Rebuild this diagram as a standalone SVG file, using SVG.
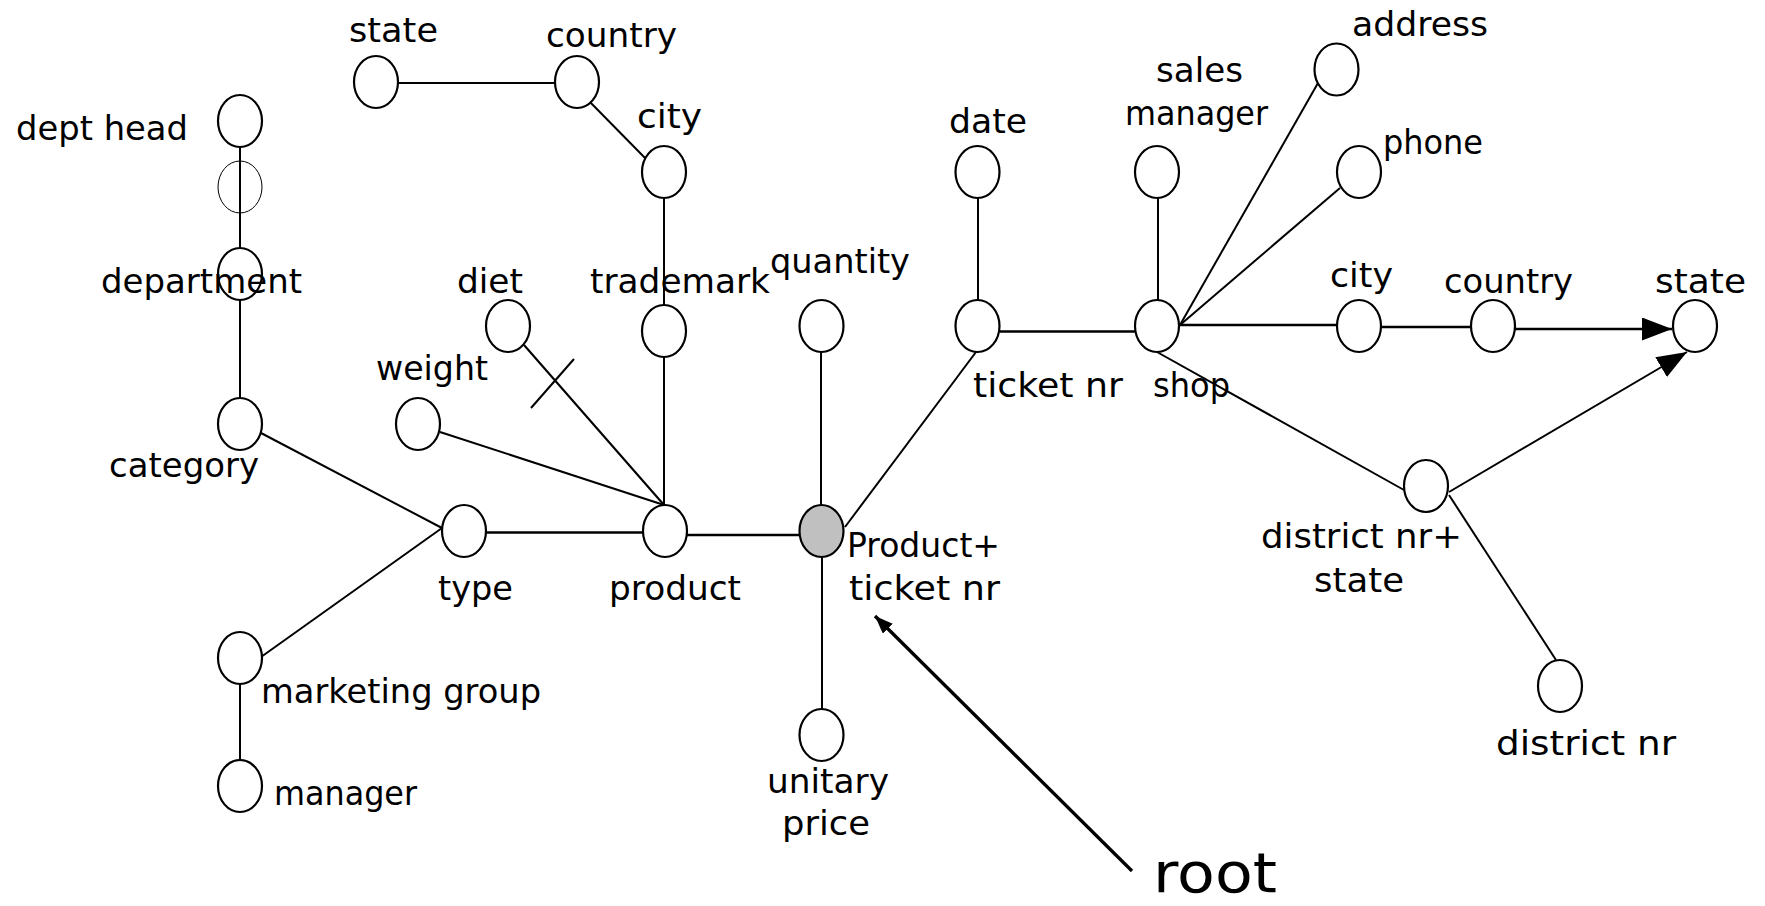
<svg xmlns="http://www.w3.org/2000/svg" width="1765" height="906" viewBox="0 0 1765 906">
  <style>
    .node { fill: #ffffff; stroke: #000000; stroke-width: 2.2; }
    .root-node { fill: #c0c0c0; stroke: #000000; stroke-width: 2.2; }
    .ghost { fill: none; stroke: #000000; stroke-width: 1; }
    .edge { stroke: #000000; stroke-width: 2; fill: none; }
    .thick { stroke-width: 2.6; }
    .lbl { font-family: "DejaVu Sans", "Liberation Sans", sans-serif; font-size: 34px; fill: #000000; }
    .big { font-size: 55px; }
  </style>
  <defs>
    <marker id="headBig" markerUnits="userSpaceOnUse" markerWidth="32" markerHeight="25" refX="30" refY="11.5" orient="auto">
      <path d="M0,0 L30,11.5 L0,23 Z" fill="#000000"/>
    </marker>
    <marker id="headSmall" markerUnits="userSpaceOnUse" markerWidth="20" markerHeight="16" refX="18" refY="7" orient="auto">
      <path d="M0,0 L18,7 L0,14 Z" fill="#000000"/>
    </marker>
  </defs>

  <!-- connectors -->
  <g id="connectors">
    <line class="edge" x1="240" y1="147" x2="240" y2="248"/>
    <line class="edge" x1="240" y1="300" x2="240" y2="398"/>
    <line class="edge" x1="398" y1="83" x2="555" y2="83"/>
    <line class="edge" x1="588" y1="100" x2="647" y2="160"/>
    <line class="edge" x1="664" y1="198" x2="664" y2="305"/>
    <line class="edge" x1="664" y1="357" x2="664" y2="505"/>
    <line class="edge" x1="524" y1="345" x2="664" y2="505"/>
    <line class="edge" x1="531" y1="408" x2="574" y2="359"/>
    <line class="edge" x1="440" y1="432" x2="664" y2="505"/>
    <line class="edge" x1="261" y1="433" x2="442" y2="528"/>
    <line class="edge" x1="261" y1="657" x2="442" y2="528"/>
    <line class="edge thick" x1="486" y1="532.5" x2="643" y2="532.5"/>
    <line class="edge thick" x1="687" y1="535" x2="800" y2="535"/>
    <line class="edge" x1="821" y1="352" x2="821" y2="505"/>
    <line class="edge" x1="845" y1="527" x2="976" y2="352"/>
    <line class="edge" x1="822" y1="557" x2="822" y2="709"/>
    <line class="edge" x1="240" y1="684" x2="240" y2="760"/>
    <line class="edge" x1="978" y1="198" x2="978" y2="300"/>
    <line class="edge thick" x1="1000" y1="331.5" x2="1135" y2="331.5"/>
    <line class="edge" x1="1158" y1="198" x2="1158" y2="300"/>
    <line class="edge" x1="1180" y1="325" x2="1318" y2="83"/>
    <line class="edge" x1="1180" y1="325" x2="1340" y2="188"/>
    <line class="edge thick" x1="1180" y1="325" x2="1337" y2="325"/>
    <line class="edge thick" x1="1381" y1="327" x2="1471" y2="327"/>
    <line class="edge thick" x1="1515" y1="329" x2="1672" y2="329" marker-end="url(#headBig)"/>
    <line class="edge" x1="1157" y1="352" x2="1404" y2="490"/>
    <line class="edge" x1="1449" y1="492" x2="1687" y2="352" marker-end="url(#headBig)"/>
    <line class="edge" x1="1449" y1="495" x2="1556" y2="660"/>
    <line class="edge" style="stroke-width:3.3" x1="1132" y1="871" x2="875" y2="616" marker-end="url(#headSmall)"/>
  </g>

  <!-- product side -->
  <g id="n-dept-head"><ellipse class="node" cx="240" cy="121" rx="22" ry="26"/><text class="lbl" x="16" y="139.5" textLength="172" lengthAdjust="spacingAndGlyphs">dept head</text></g>
  <g id="n-dept-ghost"><ellipse class="ghost" cx="240" cy="187" rx="22" ry="26"/></g>
  <g id="n-department"><ellipse class="node" cx="240" cy="274" rx="22" ry="26"/><text class="lbl" x="101" y="293" textLength="201" lengthAdjust="spacingAndGlyphs">department</text></g>
  <g id="n-category"><ellipse class="node" cx="240" cy="424" rx="22" ry="26"/><text class="lbl" x="109" y="477" textLength="150" lengthAdjust="spacingAndGlyphs">category</text></g>
  <g id="n-marketing-group"><ellipse class="node" cx="240" cy="658" rx="22" ry="26"/><text class="lbl" x="261" y="703" textLength="280" lengthAdjust="spacingAndGlyphs">marketing group</text></g>
  <g id="n-manager"><ellipse class="node" cx="240" cy="786" rx="22" ry="26"/><text class="lbl" x="274" y="805" textLength="143" lengthAdjust="spacingAndGlyphs">manager</text></g>
  <g id="n-type"><ellipse class="node" cx="464" cy="531" rx="22" ry="26"/><text class="lbl" x="438" y="600" textLength="75" lengthAdjust="spacingAndGlyphs">type</text></g>
  <g id="n-weight"><ellipse class="node" cx="418" cy="424" rx="22" ry="26"/><text class="lbl" x="376" y="380" textLength="112" lengthAdjust="spacingAndGlyphs">weight</text></g>
  <g id="n-diet"><ellipse class="node" cx="508" cy="326" rx="22" ry="26"/><text class="lbl" x="457" y="293" textLength="66" lengthAdjust="spacingAndGlyphs">diet</text></g>
  <g id="n-product"><ellipse class="node" cx="665" cy="531" rx="22" ry="26"/><text class="lbl" x="609" y="600" textLength="132" lengthAdjust="spacingAndGlyphs">product</text></g>
  <g id="n-trademark"><ellipse class="node" cx="664" cy="331" rx="22" ry="26"/><text class="lbl" x="590" y="293" textLength="180" lengthAdjust="spacingAndGlyphs">trademark</text></g>
  <g id="n-city-p"><ellipse class="node" cx="664" cy="172" rx="22" ry="26"/><text class="lbl" x="637" y="128" textLength="65" lengthAdjust="spacingAndGlyphs">city</text></g>
  <g id="n-country-p"><ellipse class="node" cx="577" cy="82" rx="22" ry="26"/><text class="lbl" x="546" y="47" textLength="131" lengthAdjust="spacingAndGlyphs">country</text></g>
  <g id="n-state-p"><ellipse class="node" cx="376" cy="82" rx="22" ry="26"/><text class="lbl" x="349" y="42" textLength="89" lengthAdjust="spacingAndGlyphs">state</text></g>

  <!-- fact node -->
  <g id="n-root"><ellipse class="root-node" cx="821.5" cy="531" rx="22" ry="26"/><text class="lbl" x="847" y="557" textLength="153" lengthAdjust="spacingAndGlyphs">Product+</text><text class="lbl" x="849" y="600" textLength="151" lengthAdjust="spacingAndGlyphs">ticket nr</text></g>
  <g id="n-quantity"><ellipse class="node" cx="821.5" cy="326" rx="22" ry="26"/><text class="lbl" x="770" y="273" textLength="140" lengthAdjust="spacingAndGlyphs">quantity</text></g>
  <g id="n-unitary-price"><ellipse class="node" cx="821.5" cy="735" rx="22" ry="26"/><text class="lbl" x="767" y="793" textLength="122" lengthAdjust="spacingAndGlyphs">unitary</text><text class="lbl" x="782" y="835" textLength="88" lengthAdjust="spacingAndGlyphs">price</text></g>

  <!-- ticket / shop side -->
  <g id="n-ticket-nr"><ellipse class="node" cx="977.5" cy="326" rx="22" ry="26"/><text class="lbl" x="973" y="397" textLength="150" lengthAdjust="spacingAndGlyphs">ticket nr</text></g>
  <g id="n-date"><ellipse class="node" cx="977.5" cy="172" rx="22" ry="26"/><text class="lbl" x="949" y="133" textLength="78" lengthAdjust="spacingAndGlyphs">date</text></g>
  <g id="n-shop"><ellipse class="node" cx="1157" cy="326" rx="22" ry="26"/><text class="lbl" x="1153" y="397" textLength="77" lengthAdjust="spacingAndGlyphs">shop</text></g>
  <g id="n-sales-manager"><ellipse class="node" cx="1157" cy="172" rx="22" ry="26"/><text class="lbl" x="1156" y="82" textLength="87" lengthAdjust="spacingAndGlyphs">sales</text><text class="lbl" x="1125" y="125" textLength="143" lengthAdjust="spacingAndGlyphs">manager</text></g>
  <g id="n-address"><ellipse class="node" cx="1336.5" cy="69.5" rx="22" ry="26"/><text class="lbl" x="1352" y="36" textLength="136" lengthAdjust="spacingAndGlyphs">address</text></g>
  <g id="n-phone"><ellipse class="node" cx="1359" cy="172" rx="22" ry="26"/><text class="lbl" x="1383" y="154" textLength="100" lengthAdjust="spacingAndGlyphs">phone</text></g>
  <g id="n-city-s"><ellipse class="node" cx="1359" cy="326" rx="22" ry="26"/><text class="lbl" x="1330" y="287" textLength="63" lengthAdjust="spacingAndGlyphs">city</text></g>
  <g id="n-country-s"><ellipse class="node" cx="1493" cy="326" rx="22" ry="26"/><text class="lbl" x="1444" y="293" textLength="129" lengthAdjust="spacingAndGlyphs">country</text></g>
  <g id="n-state-s"><ellipse class="node" cx="1695" cy="326" rx="22" ry="26"/><text class="lbl" x="1655" y="293" textLength="91" lengthAdjust="spacingAndGlyphs">state</text></g>
  <g id="n-district-state"><ellipse class="node" cx="1426" cy="486" rx="22" ry="26"/><text class="lbl" x="1261" y="548" textLength="201" lengthAdjust="spacingAndGlyphs">district nr+</text><text class="lbl" x="1314" y="592" textLength="90" lengthAdjust="spacingAndGlyphs">state</text></g>
  <g id="n-district-nr"><ellipse class="node" cx="1560" cy="686" rx="22" ry="26"/><text class="lbl" x="1496" y="755" textLength="180" lengthAdjust="spacingAndGlyphs">district nr</text></g>

  <!-- root pointer label -->
  <g id="root-label"><text class="lbl big" x="1153" y="892" textLength="124" lengthAdjust="spacingAndGlyphs">root</text></g>
</svg>
